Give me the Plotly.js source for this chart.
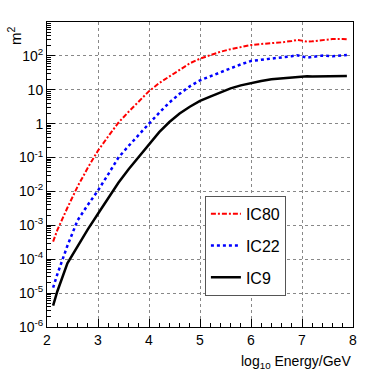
<!DOCTYPE html>
<html>
<head>
<meta charset="utf-8">
<script src="https://cdn.plot.ly/plotly-3.0.1.min.js"></script>
<style>
html, body { margin: 0; padding: 0; background: #fff; }
#graph { width: 382px; height: 382px; }
</style>
</head>
<body>
<div id="graph"></div>
<script>
// x: log10(Energy/GeV)
const energies = [2.12, 2.2, 2.4, 2.6, 2.8, 3.0, 3.2, 3.4, 3.6, 3.8, 4.0, 4.2, 4.4, 4.6, 4.8, 5.0,
    5.2, 5.4, 5.6, 5.8, 6.0, 6.2, 6.4, 6.6, 6.8, 6.9, 7.0, 7.1, 7.2, 7.4, 7.6, 7.8, 7.88];

// effective area in m^2
const ic80 = [3.3e-4, 7.1e-4, 3.3e-3, 0.014, 0.05, 0.16, 0.42, 1.07, 2.24, 4.57, 9.1, 15.8, 25.1,
    39.8, 60.3, 83, 107, 132, 158, 186, 209, 224, 234, 251, 275, 295, 282, 263, 269, 288, 316, 316, 309];
const ic22 = [1.45e-5, 3.5e-5, 2.5e-4, 1.4e-3, 4.0e-3, 0.0107, 0.032, 0.1, 0.22, 0.48, 1.0, 2.1, 4.2,
    7.6, 12.6, 19.0, 25.1, 33.1, 43.7, 56.2, 70.8, 75.9, 81.3, 89.1, 97.7, 105, 97.7, 89.1, 93.3, 102, 97.7, 105, 107];
const ic9 = [4.3e-6, 1.1e-5, 7.6e-5, 2.5e-4, 7.6e-4, 2.2e-3, 6.6e-3, 0.018, 0.045, 0.105, 0.26, 0.56, 1.12,
    2.0, 3.16, 4.68, 6.3, 8.5, 11.0, 13.5, 15.8, 18.2, 20.4, 21.9, 22.9, 24, 24.5, 25.1, 24.5, 24.5, 25.1, 25.7, 25.7];

const seriesNames = ['IC80', 'IC22', 'IC9'];

const yTickVals = [1e-6, 1e-5, 1e-4, 1e-3, 1e-2, 1e-1, 1, 10, 100];
const yTickText = ['10<sup>-6</sup>', '10<sup>-5</sup>', '10<sup>-4</sup>', '10<sup>-3</sup>',
    '10<sup>-2</sup>', '10<sup>-1</sup>', '1', '10', '10<sup>2</sup>'];
const xTickVals = [2, 3, 4, 5, 6, 7, 8];

const sans = 'Liberation Sans, Arial, sans-serif';

const traces = [
    { x: energies, y: ic80, name: seriesNames[0], legendgroup: 'a', mode: 'lines',
      line: { color: '#ff0000', width: 2, dash: '5px,2px,2px,2px' } },
    { x: energies, y: ic22, name: seriesNames[1], legendgroup: 'b', mode: 'lines',
      line: { color: '#0000ff', width: 2.5, dash: 'dot' } },
    { x: energies, y: ic9, name: seriesNames[2], legendgroup: 'c', mode: 'lines',
      line: { color: '#000000', width: 2.5 } }
];

const layout = {
    width: 382,
    height: 382,
    margin: { l: 47, r: 29, t: 22, b: 55 },
    paper_bgcolor: '#fff',
    plot_bgcolor: '#fff',
    font: { family: sans, size: 14, color: '#000' },
    showlegend: true,
    legend: {
        x: 0.516, y: 0.43, xanchor: 'left', yanchor: 'top',
        bgcolor: '#fff', bordercolor: '#555', borderwidth: 1,
        font: { family: sans, size: 16 },
        traceorder: 'grouped', tracegroupgap: 8
    },
    xaxis: {
        range: [2, 8],
        tickvals: xTickVals,
        ticks: 'inside', ticklen: 8, tickcolor: '#000',
        showline: true, linecolor: '#000', linewidth: 1, mirror: true,
        showgrid: true, gridcolor: '#888', griddash: 'dot', gridwidth: 1,
        zeroline: false,
        minor: { dtick: 0.2, ticks: 'inside', ticklen: 4, tickcolor: '#000', showgrid: false },
        tickfont: { family: sans, size: 14 }
    },
    yaxis: {
        type: 'log',
        range: [-6, 3],
        tickmode: 'array',
        tickvals: yTickVals,
        ticktext: yTickText,
        ticks: 'inside', ticklen: 8, tickcolor: '#000',
        showline: true, linecolor: '#000', linewidth: 1, mirror: true,
        showgrid: true, gridcolor: '#888', griddash: 'dot', gridwidth: 1,
        zeroline: false,
        minor: { dtick: 'D1', ticks: 'inside', ticklen: 4, tickcolor: '#000', showgrid: false },
        tickfont: { family: sans, size: 14 }
    },
    annotations: [
        { text: 'log<sub>10</sub> Energy/GeV', xref: 'paper', yref: 'paper', x: 1, y: -0.115,
          xanchor: 'right', yanchor: 'middle', showarrow: false, font: { family: sans, size: 14 } },
        { text: 'm<sup>2</sup>', xref: 'paper', yref: 'paper', x: -0.108, y: 0.957, textangle: -90,
          xanchor: 'center', yanchor: 'middle', showarrow: false, font: { family: sans, size: 15 } }
    ]
};

Plotly.newPlot('graph', traces, layout, { displayModeBar: false, staticPlot: true });
</script>
</body>
</html>
